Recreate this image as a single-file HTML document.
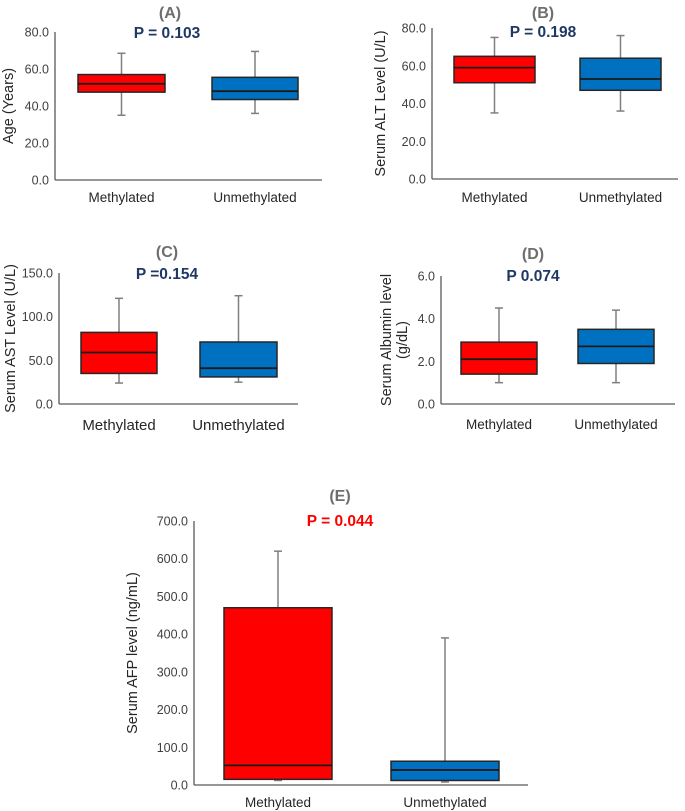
<!DOCTYPE html>
<html><head><meta charset="utf-8"><style>
body{margin:0;background:#fff;}
svg{display:block;font-family:"Liberation Sans",Arial,sans-serif;}
</style></head><body>
<svg id="s" width="685" height="811" viewBox="0 0 685 811"></svg>
<script>
const groups=["Methylated","Unmethylated"];
const ticksA=[0,20,40,60,80];
const minA=[35,36], q1A=[47.5,43.5], medA=[52,48], q3A=[57,55.5], maxA=[68.5,69.5];
const ticksB=[0,20,40,60,80];
const minB=[35,36], q1B=[51,47], medB=[59,53], q3B=[65,64], maxB=[75,76];
const ticksC=[0,50,100,150];
const minC=[24,25], q1C=[35,31], medC=[59,41], q3C=[82,71], maxC=[121,124];
const ticksD=[0,2,4,6];
const minD=[1.0,1.0], q1D=[1.4,1.9], medD=[2.1,2.7], q3D=[2.9,3.5], maxD=[4.5,4.4];
const ticksE=[0,100,200,300,400,500,600,700];
const minE=[12,8], q1E=[15,12], medE=[52,40], q3E=[470,63], maxE=[620,390];

const svg=document.getElementById('s');
const NS="http://www.w3.org/2000/svg";
function mk(tag,attrs,parent){const e=document.createElementNS(NS,tag);for(const k in attrs)e.setAttribute(k,attrs[k]);(parent||svg).appendChild(e);return e;}
const colors=["#ff0000","#0070c0"];

function panel(cfg,ticks,mins,q1s,meds,q3s,maxs){
  const g=mk('g',{});
  
  
  const y=v=>cfg.bot-(v-ticks[0])/(ticks[ticks.length-1]-ticks[0])*(cfg.bot-cfg.top);
  const ya=mk('line',{x1:cfg.ax,y1:cfg.top,x2:cfg.ax,y2:cfg.bot,stroke:'#595959','stroke-width':1.3},g);
  
  
  const xa=mk('line',{x1:cfg.ax,y1:cfg.bot,x2:cfg.xend,y2:cfg.bot,stroke:'#595959','stroke-width':1.3},g);
  
  
  ticks.forEach(t=>{
    const tx=mk('text',{x:cfg.ax-6,y:y(t)+4.5,'text-anchor':'end','font-size':cfg.fs||12.5,fill:'#404040'},g);
    tx.textContent=t.toFixed(1);
    
    
  });
  groups.forEach((name,i)=>{
    const x0=cfg.bx[i][0],x1=cfg.bx[i][1],cx=(x0+x1)/2;
    const bg=mk('g',{},g);
    
    
    mk('line',{x1:cx,y1:y(maxs[i]),x2:cx,y2:y(q3s[i]),stroke:'#7f7f7f','stroke-width':1.5},bg);
    mk('line',{x1:cx,y1:y(q1s[i]),x2:cx,y2:y(mins[i]),stroke:'#7f7f7f','stroke-width':1.5},bg);
    mk('line',{x1:cx-4,y1:y(maxs[i]),x2:cx+4,y2:y(maxs[i]),stroke:'#7f7f7f','stroke-width':1.5},bg);
    mk('line',{x1:cx-4,y1:y(mins[i]),x2:cx+4,y2:y(mins[i]),stroke:'#7f7f7f','stroke-width':1.5},bg);
    mk('rect',{x:x0,y:y(q3s[i]),width:x1-x0,height:y(q1s[i])-y(q3s[i]),fill:colors[i],stroke:'#262626','stroke-width':1.5},bg);
    mk('line',{x1:x0,y1:y(meds[i]),x2:x1,y2:y(meds[i]),stroke:'#1a1a1a','stroke-width':1.8},bg);
    const lb=mk('text',{x:cx,y:cfg.ly,'text-anchor':'middle','font-size':cfg.lfs||13.5,fill:'#262626'},g);
    lb.textContent=name;
    
    
  });
  const tt=mk('text',{x:cfg.tx,y:cfg.ty,'text-anchor':'middle','font-size':16,'font-weight':'bold',fill:'#6e6e6e'},g);
  tt.textContent='('+cfg.id.toUpperCase()+')';
  
  
  const pv=mk('text',{x:cfg.px,y:cfg.py,'text-anchor':'middle','font-size':15.5,'font-weight':'bold',fill:cfg.pc||'#1f3864'},g);
  pv.textContent=cfg.p;
  
  
  const yt=mk('text',{transform:`translate(${cfg.ytx},${(cfg.top+cfg.bot)/2}) rotate(-90)`,'text-anchor':'middle','font-size':cfg.yfs||14.5,fill:'#262626'},g);
  cfg.yt.forEach((l,k)=>{const ts=mk('tspan',{x:0,dy:k?16:(cfg.yt.length>1?-2:0)},yt);ts.textContent=l;});
  
  
}

panel({id:'a',ax:55,top:32,bot:180,xend:322,bx:[[78,165],[212,298]],ly:202,tx:170,ty:18,px:167,py:38,p:'P = 0.103',yt:['Age (Years)'],ytx:13},ticksA,minA,q1A,medA,q3A,maxA);
panel({id:'b',ax:432,top:28,bot:179,xend:678,bx:[[454,535],[580,661]],ly:202,tx:543,ty:18,px:543,py:37,p:'P = 0.198',yt:['Serum ALT Level (U/L)'],ytx:385},ticksB,minB,q1B,medB,q3B,maxB);
panel({id:'c',ax:59,top:273,bot:404,xend:298,bx:[[81,157],[200,277]],ly:430,tx:167,ty:257,px:167,py:279,p:'P =0.154',yt:['Serum AST Level (U/L)'],ytx:15,lfs:15},ticksC,minC,q1C,medC,q3C,maxC);
panel({id:'d',ax:441,top:276,bot:404,xend:675,bx:[[461,537],[578,654]],ly:429,tx:533,ty:259,px:533,py:281,p:'P 0.074',yt:['Serum Albumin level','(g/dL)'],ytx:393},ticksD,minD,q1D,medD,q3D,maxD);
panel({id:'e',ax:194,top:521,bot:785,xend:528,bx:[[224,332],[391,499]],ly:807,tx:340,ty:501,px:340,py:526,p:'P = 0.044',pc:'#ff0000',yt:['Serum AFP level (ng/mL)'],ytx:137},ticksE,minE,q1E,medE,q3E,maxE);
</script>
</body></html>
